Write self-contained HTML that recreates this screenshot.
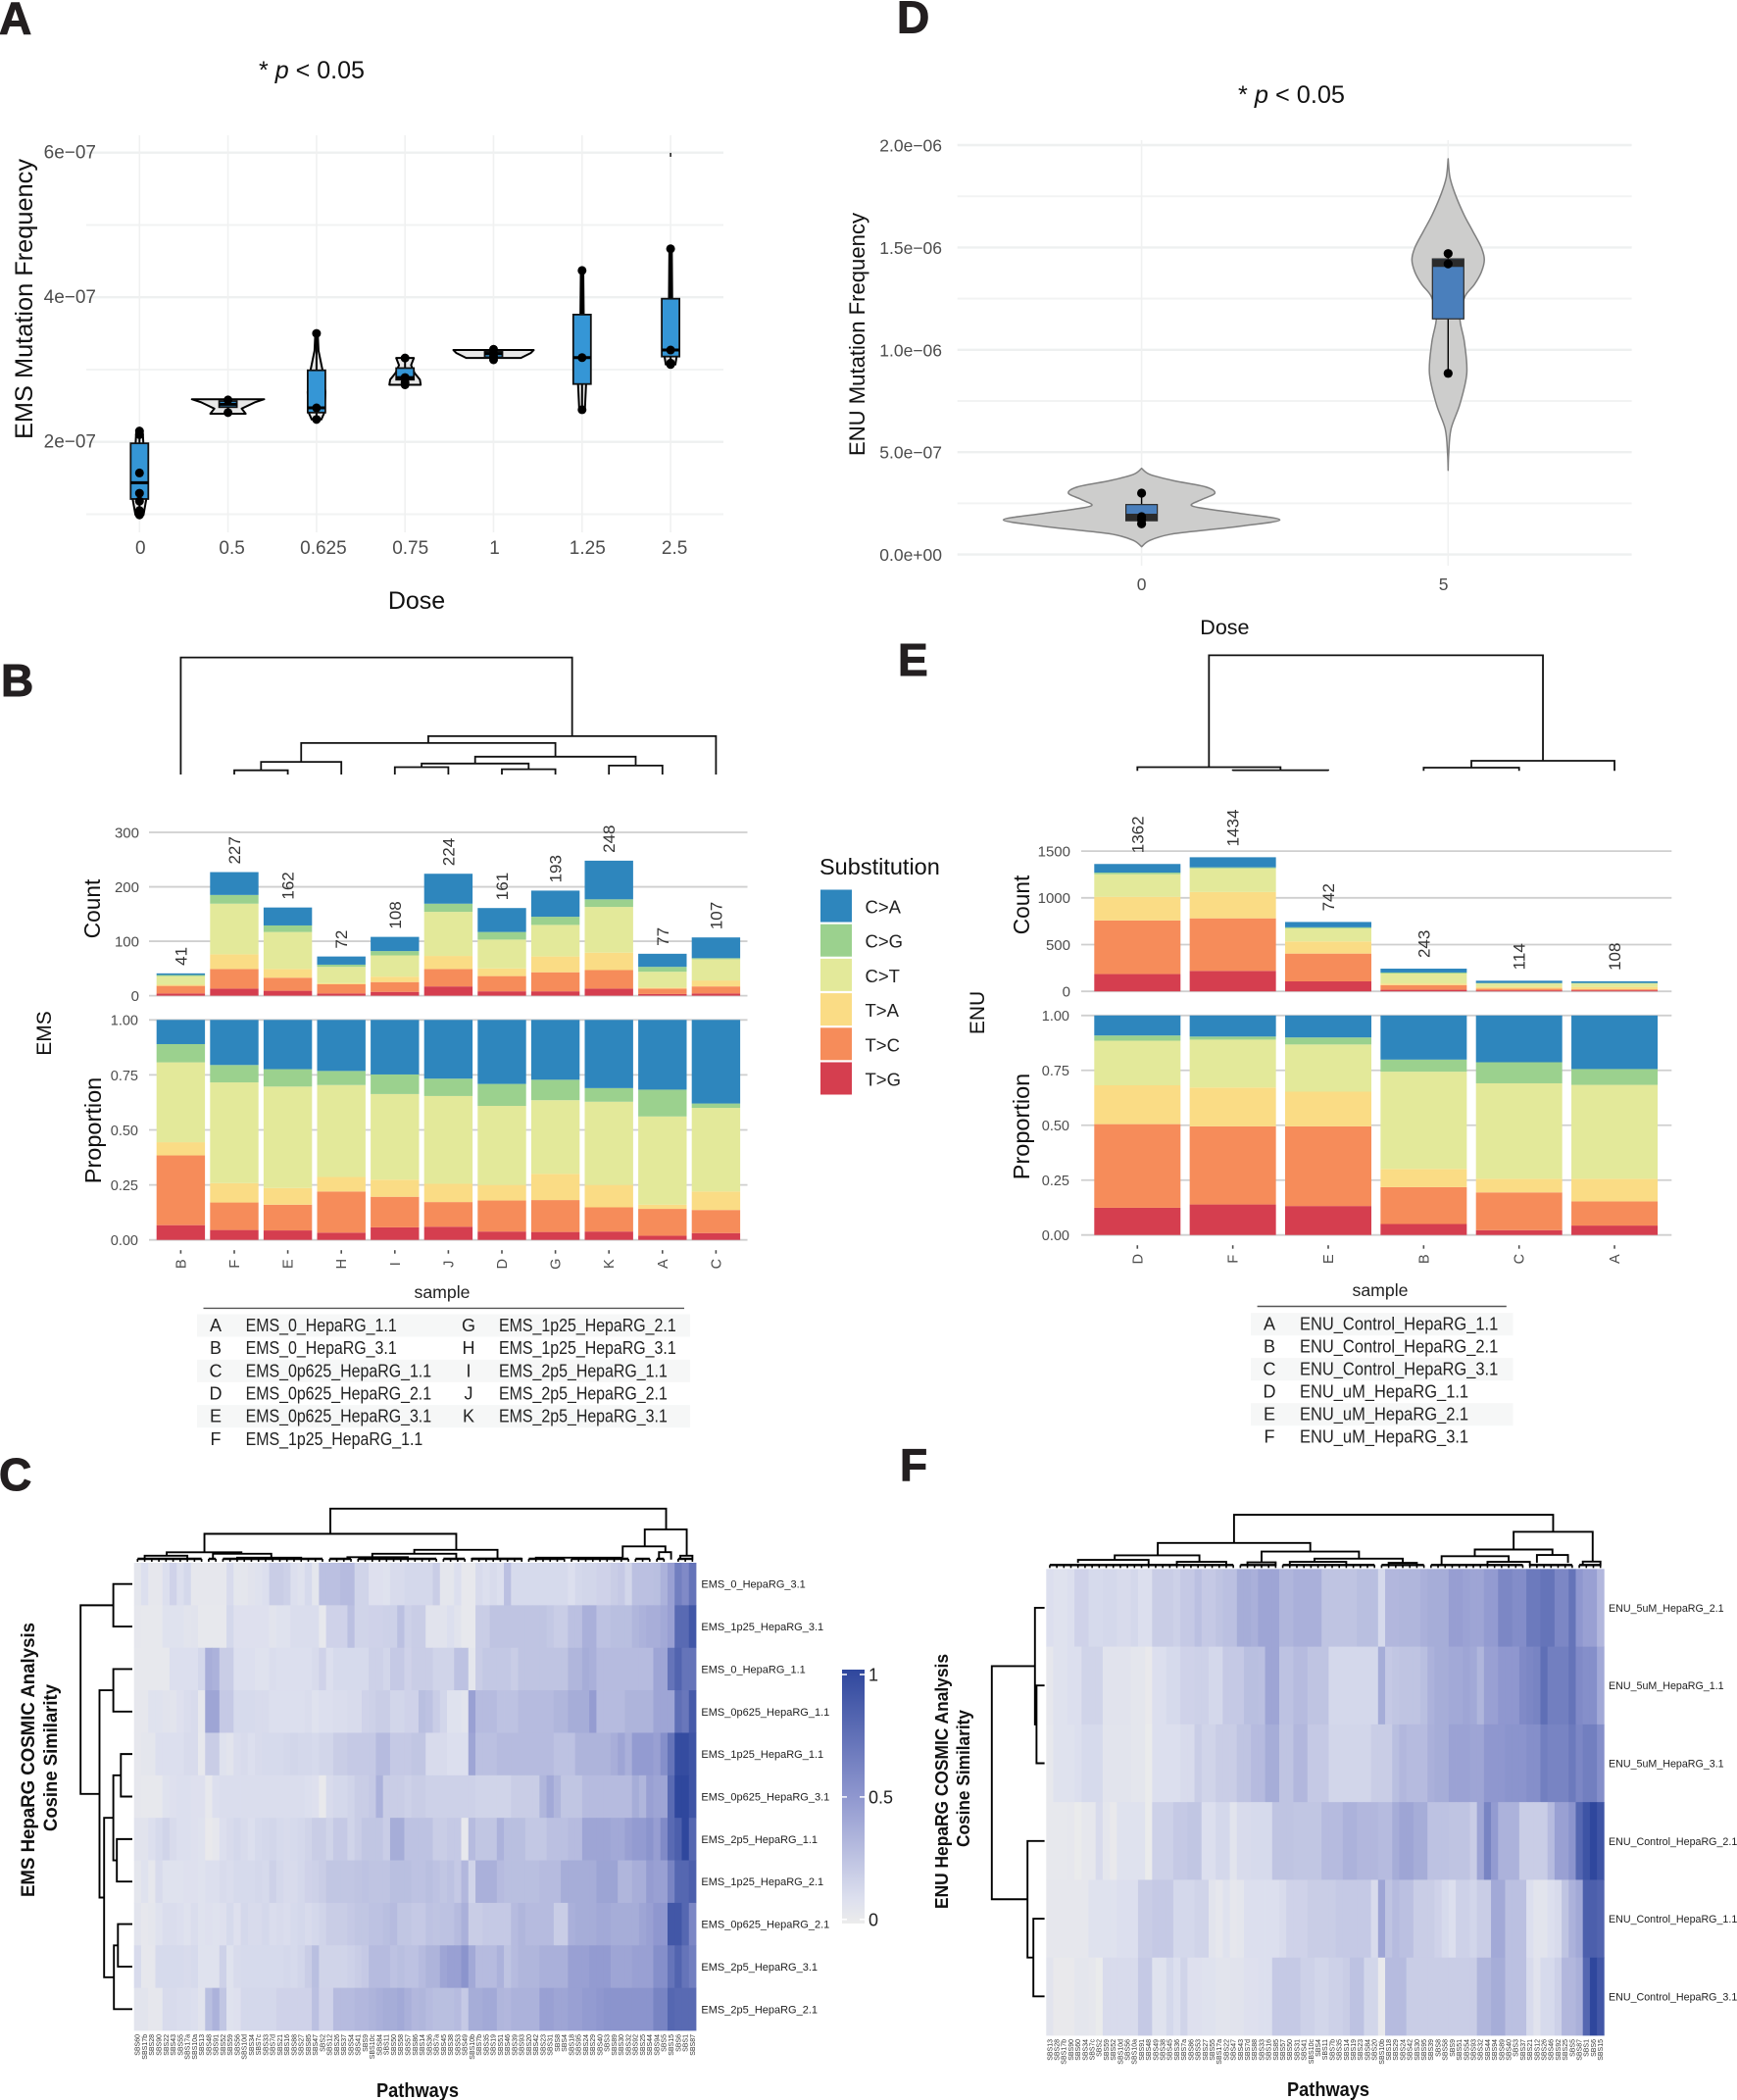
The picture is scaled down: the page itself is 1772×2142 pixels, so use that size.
<!DOCTYPE html>
<html lang="en">
<head>
<meta charset="utf-8">
<title>EMS and ENU mutation figure</title>
<style>
html,body{margin:0;padding:0;background:#fff;width:1772px;height:2142px;overflow:hidden}
svg{display:block}
text{font-family:"Liberation Sans",sans-serif}
.panel{font-weight:bold;font-size:46px;fill:#231f20;stroke:#231f20;stroke-width:1px}
</style>
</head>
<body>
<svg id="figure" xmlns="http://www.w3.org/2000/svg" width="1772" height="2142" viewBox="0 0 1772 2142">
<defs>
<linearGradient id="heatRamp" x1="0" y1="1" x2="0" y2="0">
<stop offset="0" stop-color="#ececec"/><stop offset="0.1" stop-color="#dcdfee"/><stop offset="0.5" stop-color="#8f97cf"/><stop offset="1" stop-color="#2f479d"/>
</linearGradient>
</defs>
<rect width="1772" height="2142" fill="#fff"/>

<text class="panel" x="-1" y="34.5">A</text>
<text class="panel" x="915" y="33.7">D</text>
<text class="panel" x="1" y="710">B</text>
<text class="panel" x="916" y="689">E</text>
<text class="panel" x="-1" y="1520">C</text>
<text class="panel" x="918" y="1510">F</text>

<g id="panelA"></g>
<text x="264" y="80" font-size="25" fill="#111" textLength="108" lengthAdjust="spacingAndGlyphs">* <tspan font-style="italic">p</tspan> &lt; 0.05</text>
<text x="425" y="621" font-size="25" text-anchor="middle" fill="#111">Dose</text>
<text transform="translate(33 305) rotate(-90)" font-size="25" text-anchor="middle" fill="#111" textLength="286" lengthAdjust="spacingAndGlyphs">EMS Mutation Frequency</text>

<g id="panelD"></g>
<text x="1263" y="105" font-size="25" fill="#111" textLength="109" lengthAdjust="spacingAndGlyphs">* <tspan font-style="italic">p</tspan> &lt; 0.05</text>
<text x="1249.4" y="647" font-size="21.5" text-anchor="middle" fill="#111">Dose</text>
<text transform="translate(882 341) rotate(-90)" font-size="22" text-anchor="middle" fill="#111" textLength="248" lengthAdjust="spacingAndGlyphs">ENU Mutation Frequency</text>

<g id="panelB"></g>
<text transform="translate(102 927) rotate(-90)" font-size="22.7" text-anchor="middle" fill="#111">Count</text>
<text transform="translate(103 1153) rotate(-90)" font-size="23.5" text-anchor="middle" fill="#111">Proportion</text>
<text transform="translate(52 1054) rotate(-90)" font-size="21" text-anchor="middle" fill="#111">EMS</text>
<text x="451" y="1324" font-size="17.7" text-anchor="middle" fill="#222">sample</text>
<text x="836" y="892" font-size="23.5" fill="#111">Substitution</text>
<g id="legend"></g>

<g id="panelE"></g>
<text transform="translate(1050 923) rotate(-90)" font-size="22.7" text-anchor="middle" fill="#111">Count</text>
<text transform="translate(1050 1149) rotate(-90)" font-size="23.5" text-anchor="middle" fill="#111">Proportion</text>
<text transform="translate(1004 1033) rotate(-90)" font-size="21" text-anchor="middle" fill="#111">ENU</text>
<text x="1408" y="1322" font-size="17.7" text-anchor="middle" fill="#222">sample</text>

<g id="panelC"></g>
<text transform="translate(35 1795) rotate(-90)" font-size="19" font-weight="bold" text-anchor="middle" fill="#111" textLength="280" lengthAdjust="spacingAndGlyphs">EMS HepaRG COSMIC Analysis</text>
<text transform="translate(58 1793) rotate(-90)" font-size="19" font-weight="bold" text-anchor="middle" fill="#111" textLength="150" lengthAdjust="spacingAndGlyphs">Cosine Similarity</text>
<text x="426" y="2139" font-size="20" font-weight="bold" text-anchor="middle" fill="#111" textLength="84" lengthAdjust="spacingAndGlyphs">Pathways</text>
<rect x="859" y="1703" width="23" height="259" fill="url(#heatRamp)"/>
<g id="colorBarTicks"></g>

<g id="panelF"></g>
<text transform="translate(967 1817) rotate(-90)" font-size="18" font-weight="bold" text-anchor="middle" fill="#111" textLength="260" lengthAdjust="spacingAndGlyphs">ENU HepaRG COSMIC Analysis</text>
<text transform="translate(989 1814) rotate(-90)" font-size="18" font-weight="bold" text-anchor="middle" fill="#111" textLength="140" lengthAdjust="spacingAndGlyphs">Cosine Similarity</text>
<text x="1355" y="2138" font-size="20" font-weight="bold" text-anchor="middle" fill="#111" textLength="84" lengthAdjust="spacingAndGlyphs">Pathways</text>
</svg>

<script>
// ---------- Panel A data (EMS frequency, units of 1e-7) ----------
const emsDoses = ['0','0.5','0.625','0.75','1','1.25','2.5'];
const emsGridMajor = [2,4,6];
const emsGridMinor = [1,3,5];
const emsQ1 = [1.21,2.48,2.405,2.86,3.17,2.80,3.18];
const emsQ3 = [1.98,2.565,2.99,3.02,3.25,3.76,3.98];
const emsMedian = [1.435,2.52,2.47,2.89,3.22,3.165,3.27];
const emsWhiskerLow = [0.99,2.405,2.31,2.79,3.135,2.445,3.07];
const emsWhiskerHigh = [2.15,2.58,3.50,3.16,3.28,4.37,4.67];
const emsPoints = [[2.15,2.1,1.57,1.29,1.18,1.05,0.99],[2.58,2.405],[3.5,2.47,2.31],[3.16,2.89,2.82,2.79],[3.28,3.22,3.18,3.135],[4.37,3.165,2.445],[4.67,3.27,3.09,3.07]];
const emsViolinValues = [[2.15,1.21,0.99],[2.59,2.55,2.46,2.39],[3.5,3.26,2.99,2.69,2.41,2.31],[3.16,3.06,2.95,2.86,2.79],[3.27,3.23,3.16],[4.37,3.78,2.8,2.445],[4.67,3.98,3.18,3.07]];
const emsViolinDensity = [[0.08,0.17,0.10],[0.90,0.68,0.34,0.44],[0.03,0.05,0.15,0.22,0.20,0.12],[0.22,0.15,0.24,0.37,0.39],[1,0.93,0.68],[0.03,0.04,0.10,0.07],[0.03,0.04,0.15,0.12]];
const emsOutlierValue = 5.97;
const emsOutlierDose = 6;

// ---------- Panel D data (ENU frequency, units of 1e-6) ----------
const enuDoses = ['0','5'];
const enuGridMajor = [0,0.5,1,1.5,2];
const enuGridMinor = [0.25,0.75,1.25,1.75];
const enuTickLabels = ['0.0e+00','5.0e−07','1.0e−06','1.5e−06','2.0e−06'];
const enuQ1 = [0.165,1.151];
const enuQ3 = [0.244,1.444];
const enuMedian = [0.181,1.423];
const enuWhiskerLow = [0.15,0.885];
const enuWhiskerHigh = [0.30,1.476];
const enuPoints = [[0.30,0.185,0.17,0.15],[1.47,1.42,0.885]];
const enuViolinValues = [[0.421,0.391,0.361,0.331,0.30,0.27,0.24,0.22,0.20,0.169,0.139,0.119,0.099,0.069,0.038],[1.933,1.843,1.762,1.661,1.581,1.5,1.44,1.379,1.319,1.258,1.157,1.036,0.885,0.734,0.613,0.492,0.411]];
const enuViolinDensity = [[0,0.06,0.23,0.46,0.53,0.44,0.36,0.5,0.72,1,0.72,0.46,0.21,0.06,0],[0,0.013,0.05,0.114,0.177,0.24,0.262,0.24,0.19,0.12,0.085,0.118,0.135,0.085,0.021,0.004,0]];

// ---------- Panels B and E data ----------
const substitutions = ['T>G','T>C','T>A','C>T','C>G','C>A'];
const legendOrder = ['C>A','C>G','C>T','T>A','T>C','T>G'];
const emsSamples = ['B','F','E','H','I','J','D','G','K','A','C'];
const emsTotals = [41,227,162,72,108,224,161,193,248,77,107];
const emsCountTG = [4,13,9,4,7,17,8,8,13,3,4];
const emsCountTC = [14,36,24,17,18,32,28,35,34,10,13];
const emsCountTA = [2,27,16,2,10,24,14,29,32,2,11];
const emsCountCT = [16,93,68,30,39,81,53,58,84,29,39];
const emsCountCG = [2,16,12,4,8,15,14,15,14,9,2];
const emsCountCA = [3,42,33,15,26,55,44,48,71,24,38];
const emsTG = [.067,.045,.043,.033,.057,.06,.038,.036,.038,.019,.031];
const emsTC = [.317,.125,.117,.187,.139,.112,.141,.145,.11,.122,.105];
const emsTA = [.06,.088,.076,.066,.078,.083,.071,.119,.102,.019,.084];
const emsCT = [.363,.458,.461,.418,.389,.399,.359,.335,.378,.401,.38];
const emsCG = [.083,.079,.079,.064,.089,.079,.10,.093,.062,.122,.02];
const emsCA = [.11,.205,.224,.232,.248,.267,.291,.272,.31,.317,.38];
const emsCountTicks = [0,100,200,300];
const proportionTicks = ['0.00','0.25','0.50','0.75','1.00'];
const enuSamples = ['D','F','E','B','C','A'];
const enuTotals = [1362,1434,742,243,114,108];
const enuCountTG = [185,219,107,17,11,11];
const enuCountTC = [573,562,297,50,17,11];
const enuCountTA = [253,281,130,17,17,23];
const enuCountCT = [242,253,140,107,39,39];
const enuCountCG = [17,11,11,11,6,6];
const enuCountCA = [92,108,57,41,24,18];
const enuTG = [.124,.139,.132,.05,.022,.043];
const enuTC = [.381,.356,.363,.168,.172,.11];
const enuTA = [.177,.177,.158,.083,.062,.103];
const enuCT = [.203,.218,.215,.443,.435,.428];
const enuCG = [.024,.014,.032,.055,.096,.072];
const enuCA = [.091,.096,.10,.201,.213,.244];
const enuCountTicks = [0,500,1000,1500];
const emsTreeB = [119.4,0,[39.1,[32.1,[12.9,[4.3,1,2],3],[18.2,[11.2,[7.5,4,5],[5.4,6,7]],[9.1,8,9]]],10]];
const enuTreeE = [117.8,[3.7,0,[0.6,1,2]],[10.2,[3.2,3,4],5]];
const emsTableKeysA = ['A','B','C','D','E','F'];
const emsTableNamesA = ['EMS_0_HepaRG_1.1','EMS_0_HepaRG_3.1','EMS_0p625_HepaRG_1.1','EMS_0p625_HepaRG_2.1','EMS_0p625_HepaRG_3.1','EMS_1p25_HepaRG_1.1'];
const emsTableKeysB = ['G','H','I','J','K'];
const emsTableNamesB = ['EMS_1p25_HepaRG_2.1','EMS_1p25_HepaRG_3.1','EMS_2p5_HepaRG_1.1','EMS_2p5_HepaRG_2.1','EMS_2p5_HepaRG_3.1'];
const enuTableKeys = ['A','B','C','D','E','F'];
const enuTableNames = ['ENU_Control_HepaRG_1.1','ENU_Control_HepaRG_2.1','ENU_Control_HepaRG_3.1','ENU_uM_HepaRG_1.1','ENU_uM_HepaRG_2.1','ENU_uM_HepaRG_3.1'];

// ---------- Panel C data (percent similarity) ----------
const emsHeatRows = ['EMS_0_HepaRG_3.1','EMS_1p25_HepaRG_3.1','EMS_0_HepaRG_1.1','EMS_0p625_HepaRG_1.1','EMS_1p25_HepaRG_1.1','EMS_0p625_HepaRG_3.1','EMS_2p5_HepaRG_1.1','EMS_1p25_HepaRG_2.1','EMS_0p625_HepaRG_2.1','EMS_2p5_HepaRG_3.1','EMS_2p5_HepaRG_2.1'];
const emsHeatCols = ['SBS60','SBS17b','SBS28','SBS90','SBS22','SBS43','SBS55','SBS17a','SBS10a','SBS13','SBS48','SBS91','SBS52','SBS59','SBS56','SBS10d','SBS34','SBS7c','SBS33','SBS7d','SBS21','SBS16','SBS88','SBS27','SBS85','SBS47','SBS2','SBS12','SBS26','SBS37','SBS54','SBS41','SBS9','SBS10c','SBS84','SBS11','SBS50','SBS58','SBS57','SBS86','SBS14','SBS36','SBS7a','SBS45','SBS38','SBS53','SBS49','SBS10b','SBS7b','SBS35','SBS19','SBS51','SBS46','SBS39','SBS93','SBS20','SBS42','SBS23','SBS31','SBS8','SBS4','SBS18','SBS95','SBS24','SBS29','SBS40','SBS3','SBS89','SBS30','SBS32','SBS92','SBS25','SBS44','SBS94','SBS5','SBS15','SBS6','SBS1','SBS87'];
const emsHeat0 = [5,10,4,4,10,17,10,14,4,4, 4,4,4,12,5,5,7,8,10,20, 20,18,10,8,13,5,27,27,27,30, 30,16,16,9,9,8,12,12,14,14, 14,14,20,5,5,10,3,3,12,10, 12,10,27,13,13,13,13,13,13,13, 13,10,14,15,15,17,17,20,22,15, 27,27,27,28,35,45,65,58,72];
const emsHeat1 = [4,3,3,3,8,8,8,6,7,3, 3,3,3,14,9,9,9,9,9,6, 8,8,11,11,11,11,3,17,17,17, 27,16,16,17,17,18,18,27,18,20, 20,7,7,7,10,7,3,3,20,20, 25,25,25,25,25,25,25,25,23,20, 20,27,27,36,36,26,26,28,28,28, 33,35,37,37,40,45,78,78,90];
const emsHeat2 = [3,3,3,3,3,10,10,10,10,14, 37,35,20,20,10,10,10,8,8,11, 10,10,10,10,10,12,17,10,13,13, 13,13,13,18,18,15,22,22,17,20, 20,20,16,16,16,26,26,5,20,23, 23,23,23,20,25,25,25,25,25,25, 25,33,33,38,36,30,30,30,30,30, 30,30,30,42,42,72,82,72,72];
const emsHeat3 = [4,4,8,8,7,6,9,11,12,4, 42,42,22,22,13,13,13,12,12,10, 10,10,10,10,11,8,10,10,11,11, 12,12,17,18,20,20,15,15,17,17, 28,26,20,15,8,8,6,45,30,30, 30,26,26,26,30,30,30,30,30,33, 33,38,38,38,47,30,30,30,30,34, 34,34,34,42,42,42,75,70,88];
const emsHeat4 = [4,5,5,10,10,10,10,12,12,3, 20,20,8,6,11,12,10,12,13,13, 13,14,15,14,14,13,15,15,20,20, 22,22,22,22,30,30,22,22,22,24, 24,12,12,12,10,10,10,42,27,27, 27,30,30,30,30,30,30,30,30,26, 26,26,34,34,34,34,34,37,42,36, 48,48,48,45,55,72,97,97,92];
const emsHeat5 = [4,3,3,3,8,9,10,10,9,9, 3,10,11,11,11,11,11,11,11,11, 11,11,11,11,10,9,2,12,14,14, 16,20,20,22,35,20,20,20,18,20, 20,18,18,18,18,18,18,18,16,16, 16,16,16,20,20,20,20,33,40,33, 24,24,24,30,30,30,30,30,30,30, 38,33,45,42,42,78,100,100,92];
const emsHeat6 = [7,7,10,13,16,12,10,10,9,8, 2,4,10,12,14,12,10,13,14,15, 13,12,13,14,16,20,20,16,22,22, 16,20,24,24,24,20,38,38,26,26, 26,26,20,20,22,22,3,30,24,24, 24,35,28,28,28,23,23,23,27,27, 27,30,30,42,42,42,42,40,40,45, 48,48,52,46,58,78,85,100,80];
const emsHeat7 = [5,8,4,12,8,8,8,9,9,8, 10,10,12,11,13,13,13,14,13,18, 14,12,12,14,17,18,20,24,24,24, 24,25,26,25,25,25,28,28,28,26, 26,28,26,24,26,22,32,16,36,36, 36,30,28,28,28,28,28,30,30,30, 38,38,38,38,38,43,43,43,33,33, 37,37,47,45,45,62,80,80,85];
const emsHeat8 = [6,4,5,8,11,11,10,8,11,8, 9,8,9,13,9,14,12,12,14,11, 12,11,13,14,12,14,16,20,20,20, 22,24,24,26,26,28,30,24,24,22, 22,26,25,26,26,30,36,20,20,22, 22,22,22,30,33,30,30,30,30,20, 20,36,38,38,38,40,40,38,38,38, 38,42,45,50,50,90,90,80,60];
const emsHeat9 = [12,4,4,13,13,13,13,12,13,8, 8,8,18,8,12,13,13,13,13,13, 13,14,13,15,20,28,16,16,16,16, 18,20,22,30,30,30,26,28,26,26, 30,34,34,42,45,45,52,40,30,30, 30,35,25,30,33,33,33,36,36,36, 36,45,45,45,48,48,48,42,42,42, 45,45,45,55,55,72,82,72,65];
const emsHeat10 = [6,6,4,4,12,12,11,11,10,7, 28,35,24,8,9,14,14,14,14,14, 17,17,17,17,17,27,17,17,30,30, 30,32,32,34,36,38,38,40,36,32, 33,30,28,28,28,30,22,38,38,40, 40,33,32,35,35,35,35,45,45,42, 42,45,45,48,48,50,52,52,52,52, 52,52,52,62,62,80,78,78,78];
const emsRowTree = [52.8,[19.4,0,1],[33.5,[19.4,2,3],[28.8,[19.4,[11.7,4,5],[15.8,6,7]],[18.8,[14.7,8,9],10]]]];
const emsColBrackets = [[27.1,74.3,54,28.3,32.7],[9.4,44.8,28.3,9.5,12],[71.3,77.2,32.7,15.5,6],[68.2,74.2,15.5,4,9.6],[4.1,14.6,9.5,6,8],[10.6,18.8,8,2,4],[38.9,50.6,12,8,3],[33,44.8,8,4,2],[29.5,38,4.5,2,2],[47,54,3,1.5,1.5],[73.3,75,9.6,2,2],[76.3,78,6,2,2],[1,7,6,3,3],[14,23,4,2,2],[56,68,4,2,2]];
const emsColRuns = [[0,9],[10,11],[12,26],[27,30],[31,42],[43,46],[47,54],[55,60],[61,69],[70,72],[73,74],[76,78]];

// ---------- Panel F data (percent similarity) ----------
const enuHeatRows = ['ENU_5uM_HepaRG_2.1','ENU_5uM_HepaRG_1.1','ENU_5uM_HepaRG_3.1','ENU_Control_HepaRG_2.1','ENU_Control_HepaRG_1.1','ENU_Control_HepaRG_3.1'];
const enuHeatCols = ['SBS13','SBS28','SBS17b','SBS90','SBS60','SBS34','SBS7c','SBS2','SBS59','SBS52','SBS10d','SBS56','SBS10a','SBS91','SBS48','SBS49','SBS38','SBS45','SBS36','SBS7a','SBS86','SBS53','SBS27','SBS55','SBS17a','SBS22','SBS47','SBS43','SBS7d','SBS88','SBS33','SBS16','SBS85','SBS57','SBS50','SBS31','SBS41','SBS10c','SBS4','SBS11','SBS7b','SBS35','SBS14','SBS19','SBS23','SBS84','SBS20','SBS10b','SBS18','SBS29','SBS24','SBS42','SBS30','SBS95','SBS39','SBS8','SBS58','SBS9','SBS51','SBS54','SBS93','SBS32','SBS44','SBS94','SBS89','SBS40','SBS3','SBS37','SBS21','SBS12','SBS26','SBS46','SBS92','SBS25','SBS5','SBS87','SBS1','SBS6','SBS15'];
const enuHeat0 = [10,8,8,10,17,17,13,13,14,14, 12,12,14,10,10,20,20,20,18,22, 22,27,22,22,25,27,27,38,38,36, 42,42,42,33,33,36,36,36,36,25, 25,25,25,25,28,28,28,13,32,32, 33,33,33,36,38,38,38,46,46,44, 42,42,48,48,60,60,56,56,68,68, 72,72,60,60,72,50,45,45,32];
const enuHeat1 = [4,8,8,10,10,16,16,16,7,7, 7,7,5,5,2,10,10,13,13,17, 17,18,18,14,14,22,22,22,28,28, 27,42,42,26,26,30,30,25,25,25, 14,14,14,14,14,14,14,38,22,24, 25,25,25,28,35,38,38,40,40,42, 40,33,45,45,50,50,50,58,60,62, 75,65,65,65,72,58,55,55,40];
const enuHeat2 = [3,8,8,8,10,13,13,13,6,6, 6,6,5,5,1,10,10,10,10,12, 12,20,16,16,20,20,20,25,25,30, 30,38,38,25,25,32,32,22,22,22, 15,15,15,15,15,15,20,20,20,28, 32,30,30,30,36,38,38,44,44,44, 42,42,50,50,50,52,52,52,55,55, 65,62,62,62,68,60,65,65,55];
const enuHeat3 = [3,3,3,4,1,4,4,12,5,2, 8,8,8,8,1,18,18,18,22,22, 24,24,10,10,14,14,6,12,12,13, 13,13,25,25,25,24,24,24,24,30, 30,30,35,35,32,32,32,30,30,38, 42,42,38,38,26,26,26,25,25,25, 20,42,62,48,35,35,35,20,20,20, 20,30,45,45,52,80,92,100,92];
const enuHeat4 = [4,4,4,4,4,4,8,8,8,8, 10,10,10,20,20,22,22,22,14,14, 14,16,16,6,4,8,4,5,10,10, 10,10,10,12,17,17,17,20,20,20, 20,22,22,22,22,22,12,42,25,30, 27,27,20,20,20,17,13,10,18,18, 15,20,20,40,40,27,27,27,10,6, 6,10,12,25,35,40,85,85,82];
const enuHeat5 = [6,2,2,2,5,5,4,1,12,12, 12,12,12,22,22,8,8,14,10,16, 9,9,8,8,6,6,7,7,9,9, 10,10,22,22,22,22,18,18,15,15, 18,18,20,26,26,15,15,2,30,30, 30,20,20,20,20,20,20,20,20,20, 20,33,33,38,38,27,27,27,12,7, 13,13,18,32,32,36,80,100,90];
const enuRowTree = [53.8,[9.8,0,[8.2,1,2]],[17.4,3,[11.4,4,5]]];
const enuColBrackets = [[26.1,71.3,54,25.3,36.7],[15.3,36.9,25.3,12.7,16.5],[9.2,21.2,12.7,8,6],[30,43.8,16.5,5.5,9.3],[28,32,5.5,2,2],[37.5,50,9.3,6,5],[4,14,8,5,3],[18,25,6,3,2],[34,42,6,4,3],[48,52,5,2,2],[65.7,76.9,36.7,18.6,6.3],[60.2,71.2,18.6,11.8,13],[55.5,65,11.8,3,6],[62,68,6,2,2],[69,73.4,13,5,5],[75.5,78,6.3,3,2]];
const enuColRuns = [[0,26],[27,32],[33,46],[47,53],[54,67],[68,74],[75,78]];
const colorBarTicks = [0,0.5,1];

// ---------- helpers ----------
const NS = 'http://www.w3.org/2000/svg';
function mk(tag, attrs, parent, text) {
  const e = document.createElementNS(NS, tag);
  for (const k in attrs) e.setAttribute(k, attrs[k]);
  if (text !== undefined) e.textContent = text;
  parent.appendChild(e);
  return e;
}
function hexRgb(h){return [1,3,5].map(i=>parseInt(h.substr(i,2),16));}
const rampStops = [0,0.1,0.5,1];
const rampColors = ['#ececec','#dcdfee','#8f97cf','#2f479d'].map(hexRgb);
function ramp(t){
  let i=0;
  while(i<rampStops.length-2 && t>rampStops[i+1]) i++;
  const u=Math.min(1,Math.max(0,(t-rampStops[i])/(rampStops[i+1]-rampStops[i])));
  const a=rampColors[i], b=rampColors[i+1];
  return 'rgb('+a.map((v,k)=>Math.round(v+(b[k]-v)*u)).join(',')+')';
}
function smooth(p){
  let d='M'+p[0][0]+' '+p[0][1];
  for(let i=0;i<p.length-1;i++){
    const p0=p[i-1]||p[i], p1=p[i], p2=p[i+1], p3=p[i+2]||p2;
    const c1x=p1[0]+(p2[0]-p0[0])/6, c1y=p1[1]+(p2[1]-p0[1])/6;
    const c2x=p2[0]-(p3[0]-p1[0])/6, c2y=p2[1]-(p3[1]-p1[1])/6;
    d+=' C'+c1x.toFixed(2)+' '+c1y.toFixed(2)+' '+c2x.toFixed(2)+' '+c2y.toFixed(2)+' '+p2[0]+' '+p2[1];
  }
  return d;
}
function walkTree(n, leaf, put){
  if(typeof n==='number') return {p:leaf(n),h:0};
  const a=walkTree(n[1],leaf,put), b=walkTree(n[2],leaf,put);
  put(a,b,n[0]);
  return {p:(a.p+b.p)/2,h:n[0]};
}

// ---------- Frequency panels ----------
function drawFrequency(o){
  const g=o.g;
  o.minor.forEach(v=>{
    const l=mk('line',{x1:o.x0,x2:o.x1,y1:o.y(v),y2:o.y(v),stroke:'#f2f3f3','stroke-width':2},g);
    
    
  });
  o.major.forEach((v,i)=>{
    const l=mk('line',{x1:o.x0,x2:o.x1,y1:o.y(v),y2:o.y(v),stroke:'#eef0f0','stroke-width':2.4},g);
    
    
    const t=mk('text',{x:o.tickX,y:o.y(v)+o.tickDy,'text-anchor':'end','font-size':o.tickSize,fill:'#4d4d4d'},g,o.tickText(v,i));
    
    
  });
  o.doses.forEach((d,i)=>{
    const l=mk('line',{x1:o.x(i),x2:o.x(i),y1:o.yTop,y2:o.yBot,stroke:'#f0f1f1','stroke-width':1.6},g);
    
    
    const t=mk('text',{x:o.labelX(i,d),y:o.labelY,'text-anchor':'middle','font-size':o.tickSize,fill:'#4d4d4d'},g,d);
    
    
  });
  o.doses.forEach((d,i)=>{
    const left=[],right=[];
    o.vv[i].forEach((v,k)=>{
      left.push([+(o.x(i)-o.vd[i][k]*o.vScale).toFixed(2),+o.y(v).toFixed(2)]);
      right.unshift([+(o.x(i)+o.vd[i][k]*o.vScale).toFixed(2),+o.y(v).toFixed(2)]);
    });
    const path=o.smooth?smooth(left)+' '+smooth(right).replace('M','L')+' Z':'M'+left.concat(right).map(p=>p.join(' ')).join(' L')+' Z';
    const vio=mk('path',{d:path,fill:o.vFill,stroke:o.vStroke,'stroke-width':o.vWidth,'stroke-linejoin':'round'},g);
    
    
    const wh=mk('line',{x1:o.x(i),x2:o.x(i),y1:o.y(o.wl[i]),y2:o.y(o.wh[i]),stroke:'#000','stroke-width':o.wWidth},g);
    
    
    const box=mk('rect',{x:o.x(i)-o.boxHalf,width:o.boxHalf*2,y:o.y(o.q3[i]),height:o.y(o.q1[i])-o.y(o.q3[i]),fill:o.boxFill,stroke:o.boxStroke,'stroke-width':o.boxWidth},g);
    
    
    const med=mk('line',{x1:o.x(i)-o.boxHalf,x2:o.x(i)+o.boxHalf,y1:o.y(o.med[i]),y2:o.y(o.med[i]),stroke:o.medColor,'stroke-width':o.medWidth},g);
    
    
    o.pts[i].forEach(v=>{
      const c=mk('circle',{cx:o.x(i),cy:o.y(v),r:o.r,fill:'#000'},g);
      
      
    });
  });
}
const yA=v=>450.7-(v-2)*73.75, xA=i=>142.3+i*90.3;
const yD=v=>565.6-v*208.8, xD=i=>1164.6+i*312.7;
const gA=document.getElementById('panelA');
drawFrequency({g:gA,x0:88,x1:738,y:yA,x:xA,yTop:138,yBot:543,major:emsGridMajor,minor:emsGridMinor,doses:emsDoses,
  tickX:98,tickDy:6,tickSize:19,tickText:v=>v+'e−07',labelX:(i,d)=>xA(i)+1+1.5*(d.length-1),labelY:565,
  vv:emsViolinValues,vd:emsViolinDensity,vScale:41,vFill:'#e8e8e8',vStroke:'#000',vWidth:2,smooth:false,
  wl:emsWhiskerLow,wh:emsWhiskerHigh,wWidth:2,q1:emsQ1,q3:emsQ3,med:emsMedian,boxHalf:9,boxFill:'#3596d6',boxStroke:'#111',boxWidth:1.8,medColor:'#000',medWidth:3,pts:emsPoints,r:4.5});
const outlier=mk('line',{x1:xA(emsOutlierDose),x2:xA(emsOutlierDose),y1:yA(emsOutlierValue)-2,y2:yA(emsOutlierValue)+2,stroke:'#222','stroke-width':1.6},gA);


drawFrequency({g:document.getElementById('panelD'),x0:976.7,x1:1664.6,y:yD,x:xD,yTop:143,yBot:577,major:enuGridMajor,minor:enuGridMinor,doses:enuDoses,
  tickX:961,tickDy:6.5,tickSize:17.5,tickText:(v,i)=>enuTickLabels[i],labelX:(i,d)=>xD(i)-i*4.7,labelY:602,
  vv:enuViolinValues,vd:enuViolinDensity,vScale:141,vFill:'#cdcdcc',vStroke:'#808080',vWidth:1.5,smooth:true,
  wl:enuWhiskerLow,wh:enuWhiskerHigh,wWidth:1.4,q1:enuQ1,q3:enuQ3,med:enuMedian,boxHalf:16,boxFill:'#4a7fbc',boxStroke:'#2b2b2b',boxWidth:1.2,medColor:'#2b2b2b',medWidth:7.5,pts:enuPoints,r:4.6});

// ---------- Spectrum panels ----------
const subColors={'C>A':'#2e86bd','C>G':'#9bd18e','C>T':'#e3e99a','T>A':'#fadc85','T>C':'#f68c5a','T>G':'#d53e4f'};
function drawSpectrum(o){
  const g=o.g;
  const cntY=v=>o.cntZero-v*o.cntK, prY=p=>o.prZero-p*o.prH;
  o.countTicks.forEach(v=>{
    const l=mk('line',{x1:o.x0,x2:o.x1,y1:cntY(v),y2:cntY(v),stroke:'#cfcfcf','stroke-width':1.8},g);
    
    
    const t=mk('text',{x:o.tickX,y:cntY(v)+5.4,'text-anchor':'end','font-size':15,fill:'#4d4d4d'},g,String(v));
    
    
  });
  proportionTicks.forEach(s=>{
    const p=parseFloat(s);
    const l=mk('line',{x1:o.x0,x2:o.x1,y1:prY(p),y2:prY(p),stroke:'#cfcfcf','stroke-width':1.8},g);
    
    
    const t=mk('text',{x:o.tickX-1,y:prY(p)+5.4,'text-anchor':'end','font-size':14.5,fill:'#4d4d4d'},g,s);
    
    
  });
  o.samples.forEach((s,i)=>{
    const xc=o.xStart+i*o.step;
    let cum=0, cumCount=0;
    substitutions.forEach((name,k)=>{
      const val=o.series[k][i], cnt=o.counts[k][i];
      const a=mk('rect',{x:xc-o.barW/2,width:o.barW,y:cntY(cumCount+cnt),height:cnt*o.cntK,fill:subColors[name]},g);
      
      
      const b=mk('rect',{x:xc-o.barW/2,width:o.barW,y:prY(cum+val),height:val*o.prH,fill:subColors[name]},g);
      
      
      cum+=val;
      cumCount+=cnt;
    });
    const top=cntY(o.totals[i]);
    const lab=mk('text',{transform:'translate('+(xc+6)+' '+(top-o.valueGap)+') rotate(-90)','font-size':17,fill:'#333'},g,String(o.totals[i]));
    
    
    const tk=mk('line',{x1:xc,x2:xc,y1:o.prZero+10.5,y2:o.prZero+14,stroke:'#4d4d4d','stroke-width':1.6},g);
    
    
    const tl=mk('text',{transform:'translate('+(xc+5)+' '+(o.prZero+24.5)+') rotate(-90)','text-anchor':'middle','font-size':14.5,fill:'#4d4d4d'},g,s);
    
    
  });
  const xLeaf=i=>o.xStart+i*o.step;
  walkTree(o.tree,xLeaf,(a,b,h)=>{
    const d='M'+a.p+' '+(o.treeBase-a.h)+' V'+(o.treeBase-h)+' H'+b.p+' V'+(o.treeBase-b.h);
    const p=mk('path',{d:d,fill:'none',stroke:'#111','stroke-width':1.8},g);
    
    
  });
}
const gB=document.getElementById('panelB'), gE=document.getElementById('panelE');
drawSpectrum({g:gB,samples:emsSamples,totals:emsTotals,series:[emsTG,emsTC,emsTA,emsCT,emsCG,emsCA],counts:[emsCountTG,emsCountTC,emsCountTA,emsCountCT,emsCountCG,emsCountCA],countTicks:emsCountTicks,
  x0:152,x1:762.5,tickX:142,cntZero:1015.6,cntK:0.5553,prZero:1264.7,prH:224.4,xStart:184.4,step:54.6,barW:49.4,valueGap:8,tree:emsTreeB,treeBase:790});
drawSpectrum({g:gE,samples:enuSamples,totals:enuTotals,series:[enuTG,enuTC,enuTA,enuCT,enuCG,enuCA],counts:[enuCountTG,enuCountTC,enuCountTA,enuCountCT,enuCountCG,enuCountCA],countTicks:enuCountTicks,
  x0:1103,x1:1705.3,tickX:1092,cntZero:1011.2,cntK:0.0954,prZero:1259.7,prH:223.9,xStart:1160.3,step:97.35,barW:88,valueGap:11,tree:enuTreeE,treeBase:786.2});

// legend
const gL=document.getElementById('legend');
legendOrder.forEach((name,i)=>{
  const r=mk('rect',{x:837,y:907.5+i*35.2,width:32,height:33,fill:subColors[name]},gL);
  
  
  const t=mk('text',{x:882.5,y:931.5+i*35.2,'font-size':18.5,fill:'#222'},gL,name);
  
  
});

// sample tables
function tableCell(g,x,y,str,anchor,narrow){
  const t=mk('text',{x:x,y:y+6,'font-size':18,fill:'#222','text-anchor':anchor},g,str);
  
  
  if(narrow){
    t.setAttribute('textLength',(t.getComputedTextLength()*narrow).toFixed(1));
    t.setAttribute('lengthAdjust','spacingAndGlyphs');
  }
}
function tableFrame(g,x0,x1,lx0,lx1,ly,y0,step,n){
  for(let i=0;i<n;i+=2){
    const s=mk('rect',{x:x0,width:x1-x0,y:y0+i*step-11.5,height:23,fill:'#f6f7f7'},g);
    
    
  }
  const l=mk('line',{x1:lx0,x2:lx1,y1:ly,y2:ly,stroke:'#555','stroke-width':1.4},g);
  
  
}
tableFrame(gB,201,704,207.5,698,1334.4,1352,23.15,5);
emsTableKeysA.forEach((k,i)=>{
  tableCell(gB,220,1352+i*23.15,k,'middle');
  tableCell(gB,250.6,1352+i*23.15,emsTableNamesA[i],'start',.885);
});
emsTableKeysB.forEach((k,i)=>{
  tableCell(gB,478,1352+i*23.15,k,'middle');
  tableCell(gB,509,1352+i*23.15,emsTableNamesB[i],'start',.885);
});
tableFrame(gE,1276,1543.5,1282.6,1536.8,1332.5,1350.7,23,5);
enuTableKeys.forEach((k,i)=>{
  tableCell(gE,1295,1350.7+i*23,k,'middle');
  tableCell(gE,1326,1350.7+i*23,enuTableNames[i],'start',.915);
});

// ---------- Heatmaps ----------
function drawHeat(o){
  const g=o.g, cw=(o.x1-o.x0)/o.cols.length, rh=(o.y1-o.y0)/o.rows.length;
  o.data.forEach((row,r)=>{
    row.forEach((v,c)=>{
      const cell=mk('rect',{x:o.x0+c*cw,y:o.y0+r*rh,width:cw+.4,height:rh+.4,fill:ramp(v/100)},g);
      
      
    });
    const t=mk('text',{x:o.labelX,y:o.y0+(r+.5)*rh+4,'font-size':o.labelSize,fill:'#222'},g,o.rows[r]);
    
    
  });
  o.cols.forEach((s,c)=>{
    const t=mk('text',{transform:'translate('+(o.x0+(c+.5)*cw+2.4)+' '+(o.y1+4)+') rotate(-90)','text-anchor':'end','font-size':7,fill:'#333'},g,s);
    
    
  });
  const colX=c=>o.x0+(c+.5)*cw, rowY=r=>o.y0+(r+.5)*rh;
  o.brackets.forEach(b=>{
    const base=o.y0-1.2;
    const d='M'+colX(b[0])+' '+(base-b[3])+' V'+(base-b[2])+' H'+colX(b[1])+' V'+(base-b[4]);
    const p=mk('path',{d:d,fill:'none',stroke:'#000','stroke-width':1.9},g);
    
    
  });
  o.runs.forEach(run=>{
    const base=o.y0-1;
    const bar=mk('line',{x1:colX(run[0]),x2:colX(run[1]),y1:base-3,y2:base-3,stroke:'#000','stroke-width':2.4},g);
    
    
    for(let c=run[0];c<=run[1];c++){
      const leg=mk('line',{x1:colX(c),x2:colX(c),y1:base-3,y2:base,stroke:'#000','stroke-width':1.6},g);
      
      
    }
  });
  walkTree(o.rowTree,rowY,(a,b,h)=>{
    const d='M'+(o.x0-1.7-a.h)+' '+a.p+' H'+(o.x0-1.7-h)+' V'+b.p+' H'+(o.x0-1.7-b.h);
    const p=mk('path',{d:d,fill:'none',stroke:'#000','stroke-width':1.9},g);
    
    
  });
}
drawHeat({g:document.getElementById('panelC'),x0:136.7,x1:710,y0:1594,y1:2071,labelX:715.4,labelSize:11,rows:emsHeatRows,cols:emsHeatCols,
  data:[emsHeat0,emsHeat1,emsHeat2,emsHeat3,emsHeat4,emsHeat5,emsHeat6,emsHeat7,emsHeat8,emsHeat9,emsHeat10],
  brackets:emsColBrackets,runs:emsColRuns,rowTree:emsRowTree});
drawHeat({g:document.getElementById('panelF'),x0:1067.3,x1:1636.3,y0:1600.3,y1:2076,labelX:1641,labelSize:10.7,rows:enuHeatRows,cols:enuHeatCols,
  data:[enuHeat0,enuHeat1,enuHeat2,enuHeat3,enuHeat4,enuHeat5],
  brackets:enuColBrackets,runs:enuColRuns,rowTree:enuRowTree});

// color bar ticks
const gT=document.getElementById('colorBarTicks');
colorBarTicks.forEach(v=>{
  const y=1957.8-v*249.8;
  const a=mk('line',{x1:859,x2:864,y1:y,y2:y,stroke:'#fff','stroke-width':1.5},gT);
  
  
  const b=mk('line',{x1:877,x2:882,y1:y,y2:y,stroke:'#fff','stroke-width':1.5},gT);
  
  
  const t=mk('text',{x:886,y:y+6.5,'font-size':18,fill:'#222'},gT,String(v));
  
  
});
</script>
</body>
</html>
